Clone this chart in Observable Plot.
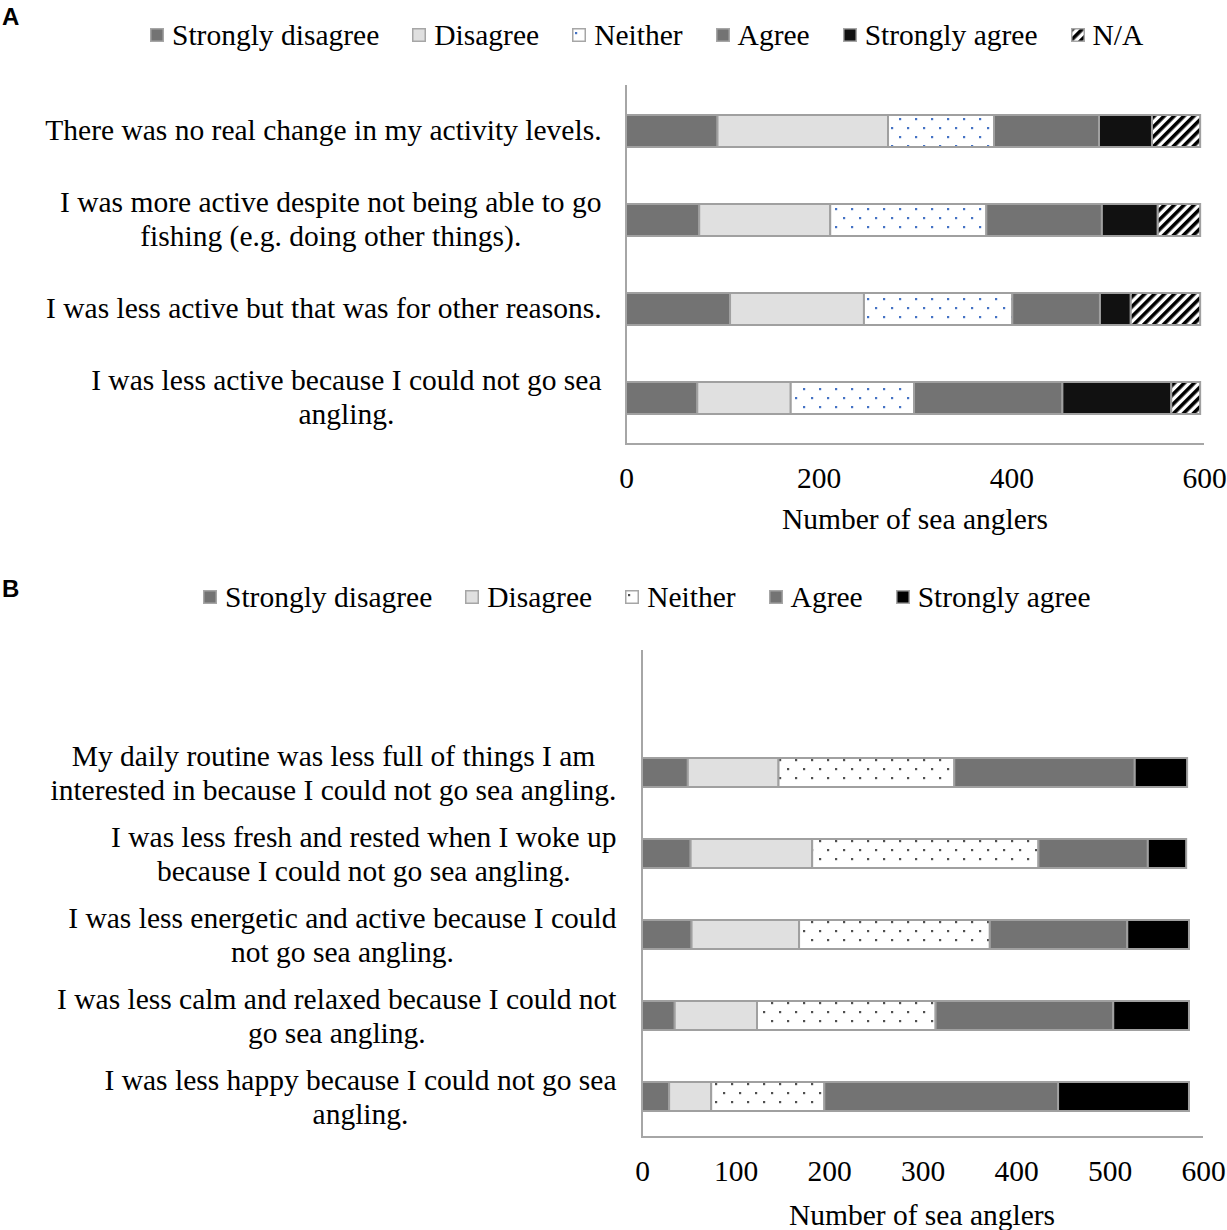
<!DOCTYPE html>
<html><head><meta charset="utf-8">
<script src="https://cdn.jsdelivr.net/npm/d3@7"></script>
<script src="https://cdn.jsdelivr.net/npm/@observablehq/plot@0.6"></script>
<style>
body{margin:0;background:#fff;}
#root{position:relative;width:1227px;height:1230px;overflow:hidden;font-family:"Liberation Serif","Times New Roman",serif;color:#000;}
.abs{position:absolute;}
.letter{font-family:"Liberation Sans",Arial,sans-serif;font-weight:bold;font-size:24px;line-height:24px;}
.legend{display:flex;align-items:center;font-size:29.5px;line-height:34px;white-space:nowrap;}
.legend .item{display:flex;align-items:center;margin-right:33px;}
.legend svg{margin-right:8px;}
.xtitle{font-size:29.5px;line-height:34px;transform:translateX(-50%);white-space:nowrap;}
</style></head>
<body>
<div id="root">
  <div class="letter abs" style="left:2px;top:5px">A</div>
  <div id="legA" class="legend abs" style="left:150px;top:18px"></div>
  <div id="chartA" class="abs" style="left:0;top:60px"></div>
  <div class="xtitle abs" style="left:915px;top:502px">Number of sea anglers</div>
  <div class="letter abs" style="left:2px;top:577px">B</div>
  <div id="legB" class="legend abs" style="left:203px;top:580px"></div>
  <div id="chartB" class="abs" style="left:0;top:620px"></div>
  <div class="xtitle abs" style="left:922px;top:1198px">Number of sea anglers</div>
</div>
<script>
// ---------- DATA: panel A ----------
const levelsA = ["Strongly disagree", "Disagree", "Neither", "Agree", "Strongly agree", "N/A"];
const statementsA = [
  "There was no real change in my activity levels.",
  "I was more active despite not being able to go\nfishing (e.g. doing other things).",
  "I was less active but that was for other reasons.",
  "I was less active because I could not go sea\nangling."
];
const stronglyDisagreeA = [95, 76, 108, 74];
const disagreeA         = [177, 136, 139, 97];
const neitherA          = [110, 162, 154, 128];
const agreeA            = [109, 120, 91, 154];
const stronglyAgreeA    = [55, 58, 32, 113];
const naA               = [50, 44, 72, 30];
const xTicksA = [0, 200, 400, 600];

// ---------- DATA: panel B ----------
const levelsB = ["Strongly disagree", "Disagree", "Neither", "Agree", "Strongly agree"];
const statementsB = [
  "My daily routine was less full of things I am\ninterested in because I could not go sea angling.",
  "I was less fresh and rested when I woke up\nbecause I could not go sea angling.",
  "I was less energetic and active because I could\nnot go sea angling.",
  "I was less calm and relaxed because I could not\ngo sea angling.",
  "I was less happy because I could not go sea\nangling."
];
const stronglyDisagreeB = [49, 52, 53, 35, 29];
const disagreeB         = [97, 130, 115, 88, 45];
const neitherB          = [188, 242, 204, 191, 121];
const agreeB            = [193, 117, 147, 190, 250];
const stronglyAgreeB    = [56, 41, 66, 81, 140];
const xTicksB = [0, 100, 200, 300, 400, 500, 600];
const xLabel = "Number of sea anglers";

// ---------- styles ----------
const fillsA = ["#737373", "#e0e0e0", "url(#dotsA)", "#737373", "#111111", "url(#stripesA)"];
const fillsB = ["#737373", "#e0e0e0", "url(#dotsB)", "#737373", "#000000"];
const FONT = "29.5px 'Liberation Serif'";

function measure(text) {
  const c = measure.c || (measure.c = document.createElement("canvas").getContext("2d"));
  c.font = FONT;
  return c.measureText(text).width;
}

function addDefs(svg, suffix, dotColor) {
  const defs = d3.select(svg).insert("defs", ":first-child");
  const dots = defs.append("pattern").attr("id", "dots" + suffix)
    .attr("patternUnits", "userSpaceOnUse").attr("width", 16).attr("height", 18);
  dots.append("rect").attr("width", 16).attr("height", 18).attr("fill", "#fff");
  dots.append("rect").attr("x", 3).attr("y", 4).attr("width", 2.2).attr("height", 2.2).attr("fill", dotColor);
  dots.append("rect").attr("x", 11).attr("y", 13).attr("width", 2.2).attr("height", 2.2).attr("fill", dotColor);
  const st = defs.append("pattern").attr("id", "stripes" + suffix)
    .attr("patternUnits", "userSpaceOnUse").attr("width", 7).attr("height", 7)
    .attr("patternTransform", "rotate(45)");
  st.append("rect").attr("width", 7).attr("height", 7).attr("fill", "#fff");
  st.append("rect").attr("width", 3.6).attr("height", 7).attr("fill", "#000");
}

const axisLines = (index, scales, values, dims) => {
  const x0 = dims.marginLeft, x1 = dims.width - dims.marginRight;
  const y0 = dims.marginTop, y1 = dims.height - dims.marginBottom;
  const g = d3.create("svg:g");
  g.append("path").attr("d", `M${x0},${y0}V${y1}H${x1}`)
    .attr("fill", "none").attr("stroke", "#a6a6a6").attr("stroke-width", 2);
  return g.node();
};

function panel({statements, levels, series, fills, ticks, height, marginLeft, marginRight, marginTop, marginBottom, yRange, gap, labelDy}) {
  const rows = [];
  statements.forEach((s, i) => levels.forEach((l, j) => rows.push({statement: s, level: l, value: series[j][i]})));
  const labelMarks = statements.map(s => {
    const w = d3.max(s.split("\n"), measure);
    return Plot.text([s], {y: d => d, text: d => d, frameAnchor: "left", textAnchor: "middle",
      dx: -(gap + w / 2), dy: labelDy, lineHeight: 34 / 29.5, fill: "#000"});
  });
  const yOpts = {domain: statements, axis: null, paddingInner: 0.645, paddingOuter: 0.3225};
  if (yRange) yOpts.range = yRange;
  return Plot.plot({
    width: 1227, height, marginLeft, marginRight, marginTop, marginBottom,
    style: {fontFamily: "'Liberation Serif', 'Times New Roman', serif", fontSize: "29.5px", color: "#000", background: "transparent", overflow: "visible"},
    x: {domain: [0, 600], ticks, tickSize: 0, tickPadding: 23, label: null},
    y: yOpts,
    color: {type: "ordinal", domain: levels, range: fills},
    marks: [
      Plot.barX(rows, Plot.stackX({y: "statement", x: "value", fill: "level", stroke: "#a0a0a0", strokeWidth: 2})),
      axisLines,
      ...labelMarks
    ]
  });
}

const svgA = panel({
  statements: statementsA, levels: levelsA,
  series: [stronglyDisagreeA, disagreeA, neitherA, agreeA, stronglyAgreeA, naA],
  fills: fillsA, ticks: xTicksA, height: 440,
  marginLeft: 626, marginRight: 23, marginTop: 25, marginBottom: 56, gap: 25, labelDy: -2.5
});
addDefs(svgA, "A", "#4472c4");
document.getElementById("chartA").append(svgA);

const svgB = panel({
  statements: statementsB, levels: levelsB,
  series: [stronglyDisagreeB, disagreeB, neitherB, agreeB, stronglyAgreeB],
  fills: fillsB, ticks: xTicksB, height: 580,
  marginLeft: 642, marginRight: 24, marginTop: 30, marginBottom: 63,
  yRange: [111, 517], gap: 26, labelDy: -1
});
addDefs(svgB, "B", "#505050");
document.getElementById("chartB").append(svgB);

function legend(el, levels, fills) {
  const items = d3.select(el).selectAll("div").data(levels).join("div").attr("class", "item");
  const sw = items.append("svg").attr("width", 14).attr("height", 14);
  sw.append("rect").attr("x", 0.75).attr("y", 0.75).attr("width", 12.5).attr("height", 12.5)
    .attr("fill", (d, i) => fills[i]).attr("stroke", "#a6a6a6").attr("stroke-width", 1.5);
  items.append("span").text(d => d);
}
legend("#legA", levelsA, fillsA);
legend("#legB", levelsB, fillsB);
</script>
</body></html>
